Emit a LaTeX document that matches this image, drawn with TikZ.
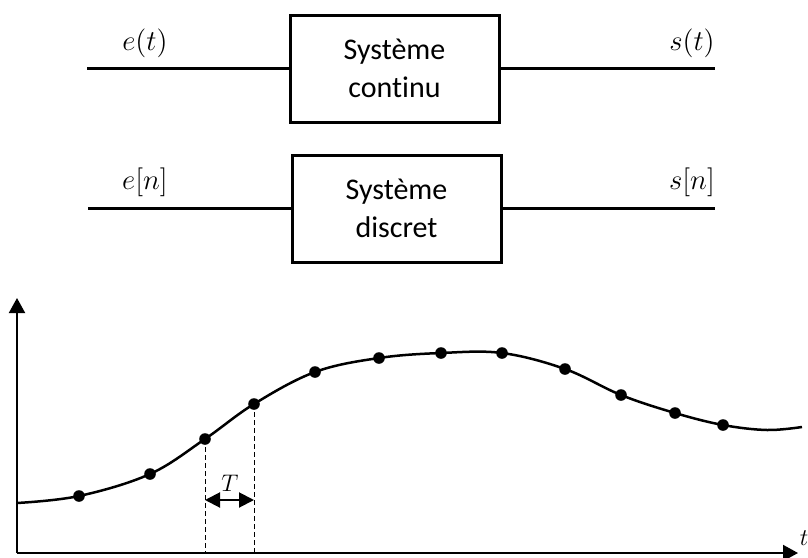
\documentclass[tikz,border=0pt]{standalone}
\usepackage{fontspec}
\newfontfamily\boxfont[Ligatures=NoCommon]{Carlito}
\usetikzlibrary{positioning, arrows.meta, calc}

\begin{document}
\begin{tikzpicture}[x=0.5pt, y=-0.5pt,
    block/.style={draw, line width=1.5pt, minimum width=104.5pt, minimum height=53.5pt,
                  inner sep=0pt, align=center, font=\boxfont\fontsize{15}{19}\selectfont},
    wire/.style={line width=1.5pt},
    sig/.style={font=\fontsize{14}{16}\selectfont},
    axis/.style={line width=1pt, -{Triangle[length=7.5pt, width=8pt]}},
    sample/.style={line width=0.5pt, dash pattern=on 2.5pt off 1.5pt},
    period/.style={line width=1pt, {Triangle[length=7.5pt, width=7.5pt]}-{Triangle[length=7.5pt, width=7.5pt]}}]
        \useasboundingbox (0,0) rectangle (808,557);

        % systemes
        \node[block] (cont) at (394.5,68.5) {Système\\continu};
        \node[block] (disc) at (396.5,208.5) {Système\\discret};
        \coordinate (ein)  at (87,68.5);
        \coordinate (sout) at (715,68.5);
        \coordinate (nin)  at (88,208.5);
        \coordinate (nout) at (715,208.5);
        \draw[wire] (ein) -- (cont);
        \draw[wire] (cont) -- (sout);
        \draw[wire] (nin) -- (disc);
        \draw[wire] (disc) -- (nout);
        \node[sig] (et) at (145,43)  {$e(t)$};
        \node[sig] (st) at (692,43)  {$s(t)$};
        \node[sig] (en) at (145,182) {$e[n]$};
        \node[sig] (sn) at (692,182) {$s[n]$};

        % signal echantillonne
        \coordinate (o)    at (17,553);
        \coordinate (ytip) at (17,298);
        \coordinate (xtip) at (798,553);
        \draw[axis] (o) -- (ytip);
        \draw[axis] (o) -- (xtip);
        \node[font=\fontsize{12}{14}\selectfont] (tlbl) at (804,538) {$t$};

        \foreach \i/\x/\y in {0/17/503, 1/79/496, 2/150/474, 3/205/439, 4/254/404,
                              5/315/372, 6/379/358, 7/441/353, 8/502/353, 9/565/369,
                              10/621/395, 11/675/413, 12/723/425, 13/767/430, 14/802/427}
          \coordinate (p\i) at (\x,\y);
        \draw[line width=1.25pt] plot[smooth, tension=0.6] coordinates {(p0) (p1) (p2) (p3) (p4) (p5) (p6)
              (p7) (p8) (p9) (p10) (p11) (p12) (p13) (p14)};
        \foreach \i in {1,...,12}
          \fill (p\i) circle (2.9pt);

        \draw[sample] (p3) -- (p3 |- o);
        \draw[sample] (p4) -- (p4 |- o);
        \coordinate (ta) at (205,500);
        \coordinate (tb) at (254,500);
        \draw[period] (ta) -- (tb);
        \node[font=\fontsize{12}{14}\selectfont] (Tlbl) at (230,483) {$T$};
      \end{tikzpicture}
\end{document}
